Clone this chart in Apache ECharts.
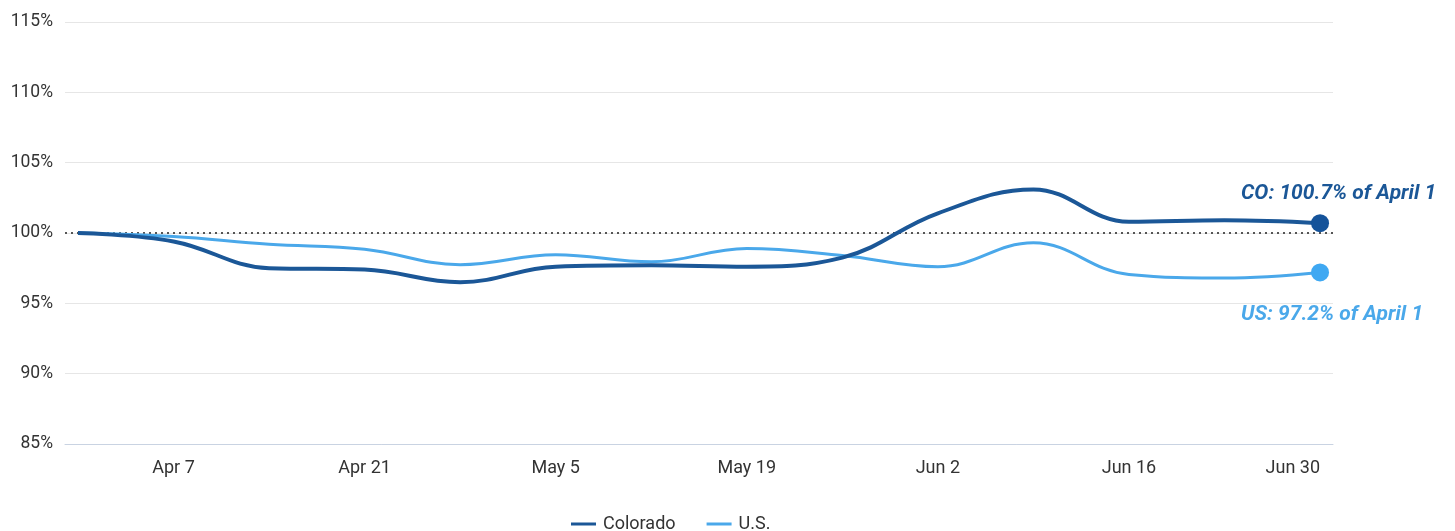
<!DOCTYPE html>
<html>
<head>
<meta charset="utf-8">
<title>Colorado vs U.S. — % of April 1</title>
<script src="https://cdn.jsdelivr.net/npm/echarts@6/dist/echarts.min.js"></script>
<style>
  html, body { margin: 0; padding: 0; background: #fff; }
  #chart { width: 1455px; height: 531px; }
</style>
</head>
<body>
<div id="chart"></div>
<script>
// Weekly observations, index relative to April 1 (=100%)
const weekDates = [
  [2020, 2, 31], [2020, 3, 7], [2020, 3, 14], [2020, 3, 21], [2020, 3, 28],
  [2020, 4, 5], [2020, 4, 12], [2020, 4, 19], [2020, 4, 26], [2020, 5, 2],
  [2020, 5, 9], [2020, 5, 16], [2020, 5, 23], [2020, 5, 30]
];
const coloradoValues = [100, 99.4, 97.5, 97.4, 96.5, 97.6, 97.7, 97.6, 98.25, 101.4, 103.1, 100.8, 100.9, 100.7];
const usValues = [100, 99.75, 99.2, 98.85, 97.75, 98.45, 97.95, 98.9, 98.4, 97.6, 99.3, 97.05, 96.8, 97.2];
const tickDates = [[2020, 3, 7], [2020, 3, 21], [2020, 4, 5], [2020, 4, 19], [2020, 5, 2], [2020, 5, 16], [2020, 5, 30]];
const monthNames = ['Jan', 'Feb', 'Mar', 'Apr', 'May', 'Jun', 'Jul', 'Aug', 'Sep', 'Oct', 'Nov', 'Dec'];
const yTicks = [85, 90, 95, 100, 105, 110, 115];
const baseline = 100;

// x positions are whole days counted from the first observation
const DAY = 86400000;
const origin = Date.UTC(weekDates[0][0], weekDates[0][1], weekDates[0][2]);
const toDay = d => Math.round((Date.UTC(d[0], d[1], d[2]) - origin) / DAY);
const dayToLabel = n => { const d = new Date(origin + n * DAY); return monthNames[d.getUTCMonth()] + ' ' + d.getUTCDate(); };
const days = weekDates.map(toDay);

const CO_COLOR = '#1b5797';
const US_COLOR = '#4aa8ea';
const FONT = 'Roboto, "Noto Sans", sans-serif';

function buildData(values, labelCfg, dotColor) {
  return values.map((v, i) => {
    if (i === values.length - 1) {
      return {
        value: [days[i], v],
        symbol: 'circle',
        symbolSize: 18,
        itemStyle: { color: dotColor },
        label: labelCfg
      };
    }
    return [days[i], v];
  });
}

const labelFont = {
  fontFamily: FONT,
  fontSize: 21,
  fontWeight: 'bold',
  fontStyle: 'italic'
};
const coLabel = Object.assign({
  show: true,
  position: 'top',
  align: 'left',
  offset: [-79, -5],
  formatter: p => 'CO: ' + p.value[1].toFixed(1) + '% of April 1',
  color: CO_COLOR
}, labelFont);
const usLabel = Object.assign({
  show: true,
  position: 'bottom',
  align: 'left',
  offset: [-79, 18],
  formatter: p => 'US: ' + p.value[1].toFixed(1) + '% of April 1',
  color: US_COLOR
}, labelFont);

const chart = echarts.init(document.getElementById('chart'), null, { renderer: 'canvas' });

chart.setOption({
  animation: false,
  backgroundColor: '#ffffff',
  textStyle: { fontFamily: FONT },
  grid: { left: 65, right: 122, top: 22, bottom: 87, containLabel: false },
  legend: {
    top: 510,
    left: 566,
    icon: 'rect',
    itemWidth: 25,
    itemHeight: 3,
    itemGap: 31,
    textStyle: { color: '#333', fontSize: 18, fontFamily: FONT, padding: [0, 0, 0, 2] },
    data: ['Colorado', 'U.S.']
  },
  xAxis: {
    type: 'value',
    min: days[0] - 0.95,
    max: days[days.length - 1] + 0.95,
    axisLine: { show: true, lineStyle: { color: '#c9d3e2', width: 1 } },
    axisTick: { show: false },
    splitLine: { show: false },
    axisLabel: {
      customValues: tickDates.map(toDay),
      alignMaxLabel: 'right',
      formatter: v => dayToLabel(v),
      color: '#333',
      fontSize: 18,
      fontFamily: FONT,
      margin: 15
    }
  },
  yAxis: {
    type: 'value',
    min: yTicks[0],
    max: yTicks[yTicks.length - 1],
    interval: 5,
    axisLine: { show: false },
    axisTick: { show: false },
    splitLine: { lineStyle: { color: '#e6e6e6', width: 1 } },
    axisLabel: {
      formatter: v => v + '%',
      color: '#333',
      fontSize: 17.5,
      fontFamily: FONT,
      margin: 12
    }
  },
  series: [
    {
      name: 'U.S.',
      type: 'line',
      smooth: 0.4,
      showSymbol: true,
      symbol: 'none',
      z: 3,
      color: US_COLOR,
      lineStyle: { color: US_COLOR, width: 3 },
      data: buildData(usValues, usLabel, '#3fa8f2'),
      markLine: {
        silent: true,
        symbol: 'none',
        label: { show: false },
        lineStyle: { color: '#555', type: [2, 4], width: 2 },
        data: [{ yAxis: baseline }],
        z: 2
      }
    },
    {
      name: 'Colorado',
      type: 'line',
      smooth: 0.4,
      showSymbol: true,
      symbol: 'none',
      z: 4,
      color: CO_COLOR,
      lineStyle: { color: CO_COLOR, width: 4 },
      data: buildData(coloradoValues, coLabel, '#15539a')
    }
  ]
});
</script>
</body>
</html>
